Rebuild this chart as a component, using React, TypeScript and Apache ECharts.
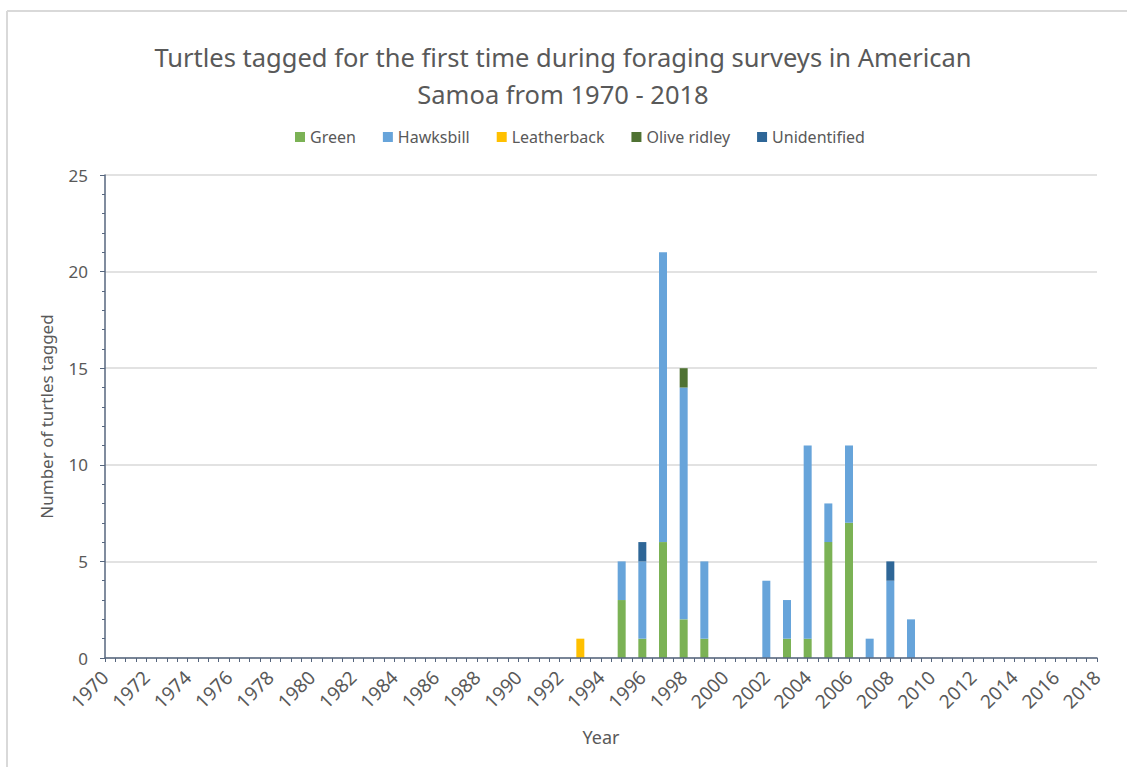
import React, { useEffect, useRef } from "react";
import * as echarts from "echarts";

const titleText = "Turtles tagged for the first time during foraging surveys in American\nSamoa from 1970 - 2018";
const firstYear = 1970;
const lastYear = 2018;
const years = [1993, 1995, 1996, 1997, 1998, 1999, 2002, 2003, 2004, 2005, 2006, 2007, 2008, 2009];
const green = [0, 3, 1, 6, 2, 1, 0, 1, 1, 6, 7, 0, 0, 0];
const hawksbill = [0, 2, 4, 15, 12, 4, 4, 2, 10, 2, 4, 1, 4, 2];
const leatherback = [1, 0, 0, 0, 0, 0, 0, 0, 0, 0, 0, 0, 0, 0];
const oliveRidley = [0, 0, 0, 0, 1, 0, 0, 0, 0, 0, 0, 0, 0, 0];
const unidentified = [0, 0, 1, 0, 0, 0, 0, 0, 0, 0, 0, 0, 1, 0];
const seriesNames = ["Green", "Hawksbill", "Leatherback", "Olive ridley", "Unidentified"];
const seriesValues = [green, hawksbill, leatherback, oliveRidley, unidentified];
const colors = ["#7bb255", "#67a4da", "#ffc000", "#4f7233", "#2e6697"];

const allYears: string[] = [];
for (let y = firstYear; y <= lastYear; y++) allYears.push(String(y));

const FONT = "Noto Sans";
const TXT = "#595959";
const AXIS = "#56667e";

export default function App() {
  const ref = useRef<HTMLDivElement>(null);
  useEffect(() => {
    if (!ref.current) return;
    const chart = echarts.init(ref.current, undefined, { renderer: "svg" });
    chart.setOption({
      animation: false,
      backgroundColor: "#ffffff",
      textStyle: { fontFamily: FONT },
      title: {
        text: titleText,
        left: 558,
        textAlign: "center",
        top: 33,
        textStyle: { fontFamily: FONT, fontSize: 25.5, fontWeight: "normal", color: TXT, lineHeight: 37 },
      },
      legend: {
        top: 124,
        left: 290,
        itemWidth: 10,
        itemHeight: 10,
        itemGap: 27,
        icon: "rect",
        textStyle: { fontFamily: FONT, fontSize: 16, color: TXT },
        data: seriesNames,
      },
      graphic: [
        { type: "line", shape: { x1: 7, y1: 11, x2: 1127, y2: 11 }, style: { stroke: "#d9d9d9", lineWidth: 2 } },
        { type: "line", shape: { x1: 7, y1: 11, x2: 7, y2: 767 }, style: { stroke: "#d9d9d9", lineWidth: 2 } },
      ],
      grid: { left: 105, right: 30, top: 175, bottom: 109, containLabel: false },
      xAxis: [
        {
          type: "value",
          min: firstYear,
          max: lastYear,
          interval: 2,
          name: "Year",
          nameLocation: "middle",
          nameGap: 70,
          nameTextStyle: { fontFamily: FONT, fontSize: 18, color: TXT },
          axisLine: { show: true, lineStyle: { color: AXIS, width: 1.5 } },
          axisTick: { show: true, length: 4, lineStyle: { color: AXIS } },
          minorTick: { show: true, splitNumber: 4, length: 4, lineStyle: { color: AXIS } },
          splitLine: { show: false },
          axisLabel: {
            rotate: 45,
            margin: 16,
            fontFamily: FONT,
            fontSize: 19,
            color: TXT,
            formatter: (v: number) => String(v),
          },
          z: 5,
        },
        {
          type: "category",
          data: allYears,
          boundaryGap: false,
          show: false,
          axisLine: { show: false },
          axisTick: { show: false },
          axisLabel: { show: false },
          splitLine: { show: false },
        },
      ],
      yAxis: {
        type: "value",
        min: 0,
        max: 25,
        interval: 5,
        name: "Number of turtles tagged",
        nameLocation: "middle",
        nameGap: 50,
        nameTextStyle: { fontFamily: FONT, fontSize: 17, color: TXT },
        axisLine: { show: true, lineStyle: { color: AXIS, width: 1.5 } },
        axisTick: { show: true, length: 5, lineStyle: { color: AXIS } },
        minorTick: { show: true, splitNumber: 5, length: 3, lineStyle: { color: AXIS } },
        splitLine: { show: true, lineStyle: { color: "#d9d9d9", width: 1.5 } },
        axisLabel: { fontFamily: FONT, fontSize: 17, color: TXT, margin: 17 },
      },
      series: seriesNames.map((name, i) => ({
        name,
        type: "bar",
        stack: "total",
        xAxisIndex: 1,
        barWidth: 8,
        itemStyle: { color: colors[i] },
        data: allYears.map((y) => {
          const j = years.indexOf(Number(y));
          return j >= 0 && seriesValues[i][j] > 0 ? seriesValues[i][j] : "-";
        }),
      })),
    });
    return () => chart.dispose();
  }, []);
  return (
    <div style={{ position: "fixed", left: 0, top: 0, width: 1127, height: 767 }}>
      <div ref={ref} style={{ width: 1127, height: 767 }} />
    </div>
  );
}
